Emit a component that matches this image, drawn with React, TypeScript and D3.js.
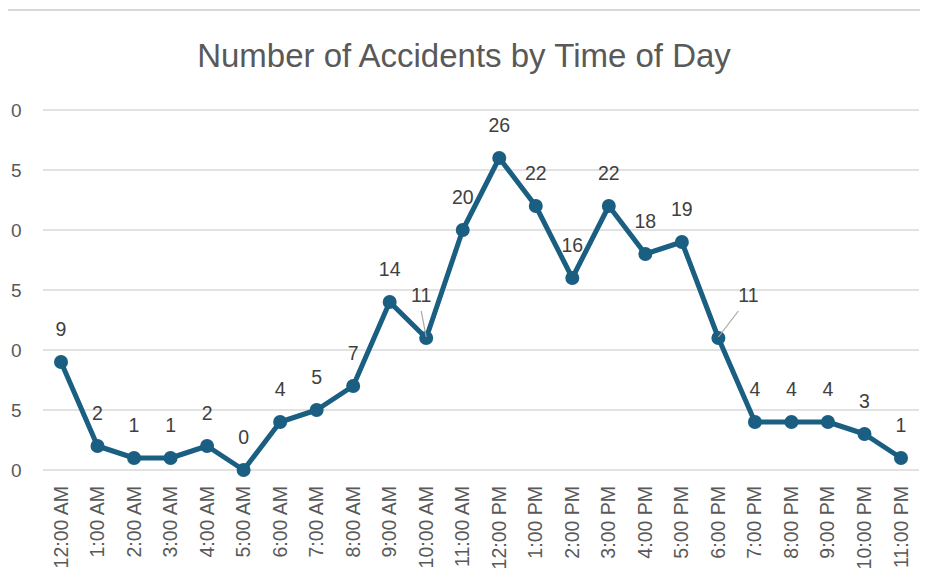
import React from "react";
import * as d3 from "d3";

const hours = [
  "12:00 AM", "1:00 AM", "2:00 AM", "3:00 AM", "4:00 AM", "5:00 AM",
  "6:00 AM", "7:00 AM", "8:00 AM", "9:00 AM", "10:00 AM", "11:00 AM",
  "12:00 PM", "1:00 PM", "2:00 PM", "3:00 PM", "4:00 PM", "5:00 PM",
  "6:00 PM", "7:00 PM", "8:00 PM", "9:00 PM", "10:00 PM", "11:00 PM",
];
const accidents = [9, 2, 1, 1, 2, 0, 4, 5, 7, 14, 11, 20, 26, 22, 16, 22, 18, 19, 11, 4, 4, 4, 3, 1];
const yTicks = [0, 5, 10, 15, 20, 25, 30];
const title = "Number of Accidents by Time of Day";

const W = 927;
const H = 586;
const FONT = "'Liberation Sans', Arial, sans-serif";
const LINE = "#1a5e82";

// label displacement overrides (dx, dy of label relative to default)
const labelShift: Record<number, [number, number]> = {
  10: [-5, -10],
  18: [30, -10],
};

export default function App() {
  const x = d3.scalePoint<string>().domain(hours).range([61, 901]);
  const y = d3.scaleLinear().domain([0, 30]).range([470, 110]);
  const line = d3
    .line<number>()
    .x((_, i) => x(hours[i]) as number)
    .y((d) => y(d));

  return (
    <svg
      width={W}
      height={H}
      style={{ position: "absolute", left: 0, top: 0, background: "#fff" }}
      fontFamily={FONT}
    >
      <defs>
        <clipPath id="yclip">
          <rect x={10.5} y={0} width={40} height={H} />
        </clipPath>
      </defs>
      <line x1={8} x2={920} y1={10} y2={10} stroke="#d9d9d9" strokeWidth={2} />
      <text x={464} y={67} textAnchor="middle" fontSize={33} fill="#595959">
        {title}
      </text>
      {yTicks.map((t) => (
        <line key={`g${t}`} x1={43} x2={919} y1={y(t)} y2={y(t)} stroke="#d9d9d9" strokeWidth={1.5} />
      ))}
      <g clipPath="url(#yclip)">
        {yTicks.map((t) => (
          <text key={t} x={21.5} y={y(t) + 7} textAnchor="end" fontSize={19} fill="#595959">
            {t}
          </text>
        ))}
      </g>
      {hours.map((h) => (
        <text
          key={h}
          transform={`translate(${(x(h) as number) + 6.5},486) rotate(-90)`}
          textAnchor="end"
          fontSize={19.5}
          fill="#595959"
        >
          {h}
        </text>
      ))}
      <path d={line(accidents) || ""} fill="none" stroke={LINE} strokeWidth={5} strokeLinejoin="round" />
      {accidents.map((v, i) => (
        <circle key={i} cx={x(hours[i]) as number} cy={y(v)} r={7} fill={LINE} />
      ))}
      {accidents.map((v, i) => {
        const px = x(hours[i]) as number;
        const py = y(v);
        const [dx, dy] = labelShift[i] || [0, 0];
        const lx = px + dx;
        const ly = py - 26 + dy;
        return (
          <g key={`l${i}`}>
            {labelShift[i] && (
              <line
                x1={i === 10 ? lx : lx - 10}
                y1={ly + 9}
                x2={px}
                y2={py - 1}
                stroke="#a6a6a6"
                strokeWidth={1.2}
              />
            )}
            <text x={lx} y={ly} textAnchor="middle" fontSize={19.5} fill="#404040">
              {v}
            </text>
          </g>
        );
      })}
    </svg>
  );
}
